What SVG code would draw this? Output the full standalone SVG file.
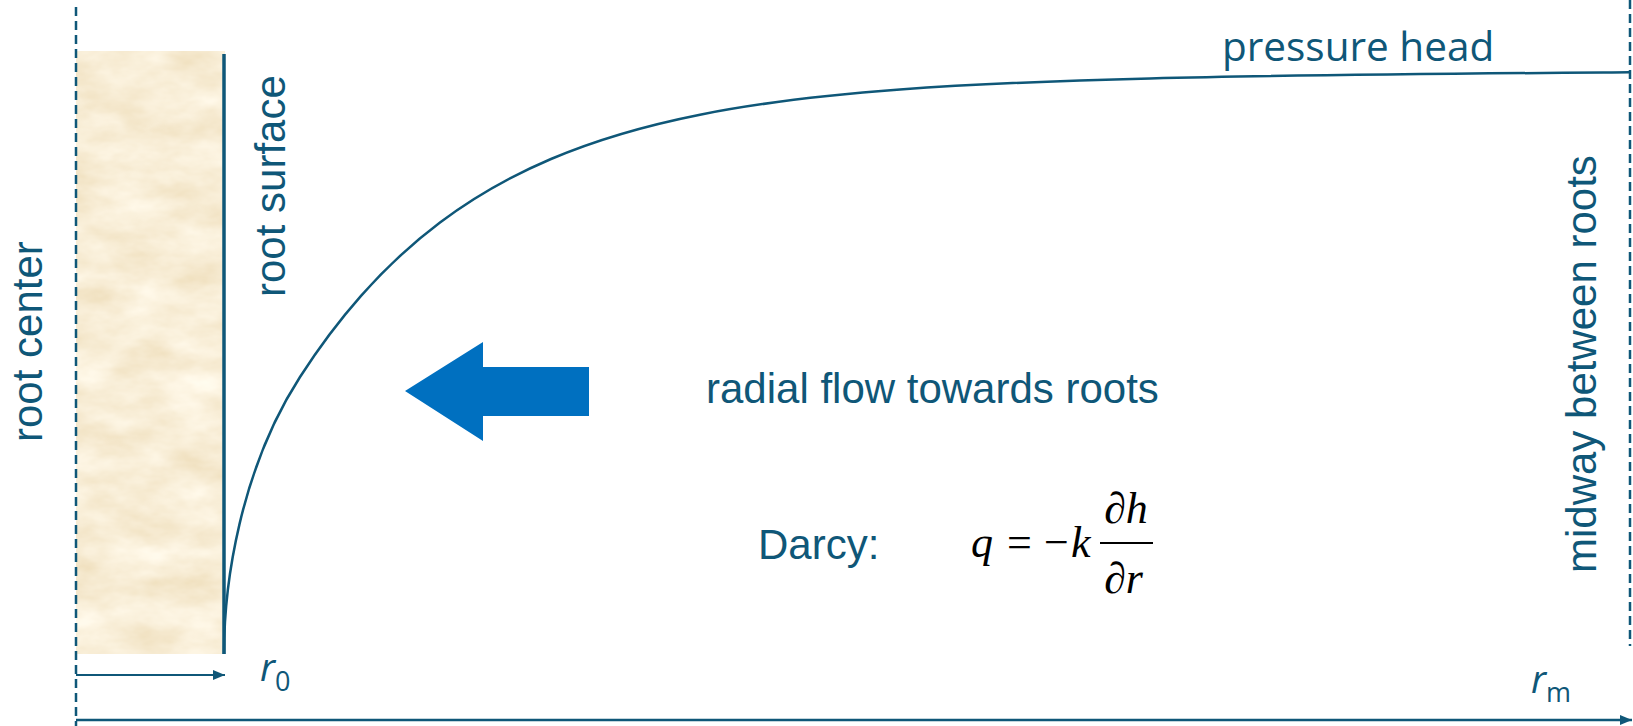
<svg xmlns="http://www.w3.org/2000/svg" width="1633" height="726" viewBox="0 0 1633 726">
<style>
.lbl{font-family:"Liberation Sans",Arial,sans-serif;font-size:42px;fill:#0F5778}
.ph{font-family:"Open Sans",sans-serif;font-size:40.5px;fill:#0F5778}
.rl{font-family:"Open Sans",sans-serif;fill:#0F5778}
.eq{font-family:"Liberation Serif","Times New Roman",serif;font-size:44px;fill:#000}
.it{font-style:italic}
.dash{stroke:#0F5778;stroke-width:2.5;stroke-dasharray:9 5;fill:none}
.ln{stroke:#0F5778;fill:none}
</style>
<defs>
<filter id="sand" x="0" y="0" width="1" height="1" filterUnits="objectBoundingBox">
<feTurbulence type="fractalNoise" baseFrequency="0.018 0.035" numOctaves="4" seed="7" result="n"/>
<feColorMatrix in="n" type="matrix" values="0.2 0 0 0 0.84  0.3 0 0 0 0.7  0.45 0 0 0 0.45  0 0 0 0 1"/>
</filter>
<marker id="ah" viewBox="0 0 12 10" refX="12" refY="5" markerWidth="12" markerHeight="10" markerUnits="userSpaceOnUse" orient="auto">
<path d="M0,0 L12,5 L0,10 Z" fill="#0F5778"/>
</marker>
</defs>
<rect width="1633" height="726" fill="#fff"/>

<g id="root">
<rect x="76" y="51" width="149" height="603" fill="#EEDCB4" filter="url(#sand)"/>
<line x1="224" y1="54" x2="224" y2="654" class="ln" stroke-width="3.5"/>
</g>

<g id="guides">
<line x1="76" y1="7" x2="76" y2="726" class="dash"/>
<line x1="1630" y1="0" x2="1630" y2="646" class="dash"/>
</g>

<g id="connectors">
<path id="curve" class="ln" stroke-width="2.5" d="M224,654 C224,584 240,470 300,377 C320.33,345.46 340.67,318.89 361,295.9 C387.33,266.12 413.67,242.29 440,222.5 C477,194.69 514,174.71 551,159 C600.67,137.91 650.33,124.58 700,114.7 C766.67,101.43 833.33,94.44 900,89.5 C983.33,83.33 1066.67,80.5 1150,78.45 C1310,74.51 1470,73.49 1630,72.3"/>
<line x1="76" y1="675" x2="225" y2="675" class="ln" stroke-width="2" marker-end="url(#ah)"/>
<line x1="76" y1="720" x2="1632" y2="720" class="ln" stroke-width="2.5" marker-end="url(#ah)"/>
</g>

<g id="flow-arrow">
<polygon points="405,391 483,342 483,367 589,367 589,416 483,416 483,441" fill="#0070C0"/>
</g>

<g id="labels">
<text class="lbl" transform="translate(42,442) rotate(-90)">root center</text>
<text class="lbl" transform="translate(285,297) rotate(-90)">root surface</text>
<text class="lbl" transform="translate(1596,573) rotate(-90)">midway between roots</text>
<text class="ph" x="1222" y="61">pressure head</text>
<text class="lbl" x="706" y="403">radial flow towards roots</text>
<text class="lbl" x="758" y="559">Darcy:</text>
<text class="rl" x="260" y="681"><tspan class="it" font-size="38">r</tspan><tspan font-size="27" dy="10">0</tspan></text>
<text class="rl" x="1531" y="693"><tspan class="it" font-size="38">r</tspan><tspan font-size="27" dy="9">m</tspan></text>
</g>

<g id="equation">
<text class="eq it" x="971" y="557">q</text>
<text class="eq" x="1007" y="557">=</text>
<text class="eq" x="1044" y="557">−</text>
<text class="eq it" x="1071" y="557">k</text>
<line x1="1100" y1="543" x2="1153" y2="543" stroke="#000" stroke-width="2"/>
<text class="eq it" x="1104" y="523">∂h</text>
<text class="eq it" x="1104" y="593">∂r</text>
</g>
</svg>
